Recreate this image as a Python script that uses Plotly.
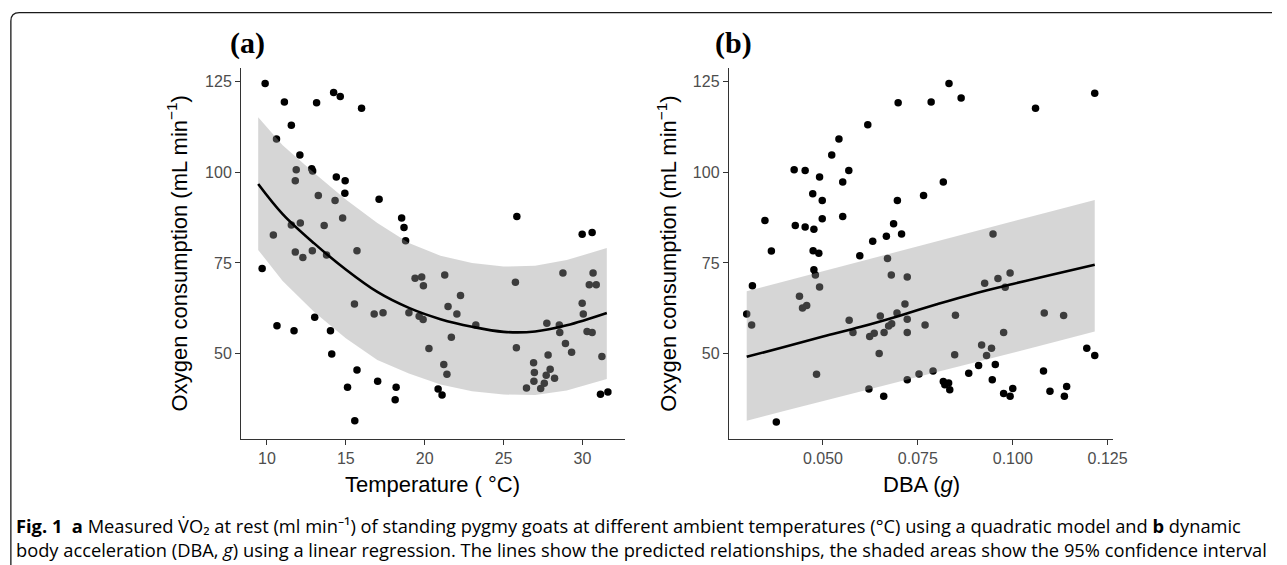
import plotly.graph_objects as go

W, H = 1287, 565

# ---------------- Panel (a): temperature ----------------
temp_c = [9.70, 9.89, 10.41, 10.61, 10.64, 11.11, 11.55, 11.55, 11.72, 11.80,
          11.80, 11.86, 12.09, 12.12, 12.28, 12.84, 12.90, 12.88, 13.03, 13.15,
          13.26, 13.63, 13.78, 14.03, 14.11, 14.23, 14.32, 14.40, 14.65, 14.80,
          14.94, 14.96, 15.11, 15.55, 15.57, 15.71, 15.71, 16.00, 16.80, 17.02,
          17.11, 17.36, 18.13, 18.19, 18.54, 18.69, 18.79, 19.00, 19.39, 19.81,
          19.92, 19.65, 19.90, 20.27, 20.85, 21.10, 21.21, 21.27, 21.41, 21.48,
          21.69, 22.04, 22.27, 23.24, 25.75, 25.81, 25.84, 26.45, 26.90, 26.95,
          26.92, 27.35, 27.58, 27.70, 27.95, 27.82, 27.74, 28.23, 28.53, 28.56,
          28.76, 28.92, 29.31, 29.98, 29.98, 30.05, 30.29, 30.61, 30.43, 30.61,
          30.67, 30.87, 31.14, 31.23, 31.61]
vo2_a = [73.5, 124.5, 82.7, 109.2, 57.7, 119.4, 113.0, 85.5, 56.3, 97.7,
         78.0, 100.7, 104.8, 86.0, 76.5, 101.0, 100.4, 78.4, 60.0, 119.2,
         93.6, 85.3, 77.2, 56.3, 49.9, 122.0, 92.2, 98.7, 120.9, 87.4,
         94.2, 97.7, 40.7, 63.7, 31.5, 78.4, 45.5, 117.7, 60.9, 42.4,
         92.6, 61.3, 37.3, 40.7, 87.4, 84.8, 81.1, 61.3, 70.8, 71.1,
         68.7, 60.3, 59.4, 51.4, 40.2, 38.6, 47.0, 71.7, 44.3, 63.0,
         54.5, 60.9, 66.0, 57.9, 69.7, 51.6, 87.8, 40.5, 47.5, 44.8,
         42.4, 40.4, 41.8, 44.0, 45.7, 49.6, 58.4, 43.2, 57.9, 55.8,
         72.2, 52.8, 50.4, 82.9, 63.9, 60.9, 56.1, 55.8, 69.0, 83.4,
         72.2, 69.0, 38.8, 49.2, 39.4]

fit_a_x = [9.45, 11, 13, 15, 17, 19, 21, 23, 25, 27, 29, 31.54]
fit_a_y = [96.8, 88.5, 80.4, 73.2, 67.0, 62.6, 59.5, 57.4, 56.0, 56.1, 57.8, 61.2]
ci_a_hi = [115.2, 107.5, 99.8, 92.5, 86.0, 80.5, 77.0, 75.0, 74.0, 74.2, 75.8, 79.1]
ci_a_lo = [78.6, 70.0, 61.5, 54.2, 48.2, 44.5, 41.5, 39.6, 38.7, 38.6, 39.8, 43.0]

# ---------------- Panel (b): DBA ----------------
dba_g = [0.0299, 0.0314, 0.0312, 0.0347, 0.0364, 0.0377, 0.0424, 0.0453, 0.0427, 0.0453,
         0.0476, 0.0438, 0.0446, 0.0457, 0.0473, 0.0491, 0.0498, 0.0498, 0.0474, 0.0489,
         0.0476, 0.0480, 0.0491, 0.0483, 0.0523, 0.0542, 0.0552, 0.0568, 0.0552, 0.0597,
         0.0618, 0.0631, 0.0667, 0.0686, 0.0707, 0.0696, 0.0698, 0.0569, 0.0579, 0.0623,
         0.0635, 0.0651, 0.0661, 0.0648, 0.0670, 0.0680, 0.0681, 0.0673, 0.0695, 0.0716,
         0.0722, 0.0722, 0.0722, 0.0722, 0.0621, 0.0660, 0.0753, 0.0832, 0.0785, 0.0864,
         0.1060, 0.1216, 0.0817, 0.0765, 0.0948, 0.0926, 0.0961, 0.0993, 0.0980, 0.0849,
         0.0769, 0.0976, 0.1083, 0.1134, 0.0847, 0.0918, 0.0944, 0.0931, 0.0954, 0.0910,
         0.0884, 0.0790, 0.0821, 0.0817, 0.0834, 0.0831, 0.0946, 0.0976, 0.0993, 0.1000,
         0.1081, 0.1098, 0.1142, 0.1136, 0.1195, 0.1216]
vo2_b = [60.9, 68.7, 57.9, 86.7, 78.3, 31.1, 100.7, 100.5, 85.3, 84.9,
         84.3, 65.8, 62.6, 63.3, 94.1, 98.7, 92.2, 87.2, 78.4, 77.7,
         73.1, 71.7, 68.4, 44.3, 104.8, 109.2, 97.3, 100.5, 87.8, 77.0,
         113.1, 81.0, 82.4, 85.8, 83.0, 92.2, 119.2, 59.2, 55.8, 54.7,
         55.6, 60.4, 55.8, 50.0, 76.2, 71.7, 58.2, 57.6, 61.2, 63.7,
         71.1, 59.5, 55.8, 42.8, 40.2, 38.2, 44.4, 124.5, 119.4, 120.5,
         117.7, 121.8, 97.3, 93.6, 83.0, 69.4, 70.7, 72.2, 68.3, 60.6,
         57.9, 55.8, 61.2, 60.5, 49.7, 52.4, 51.5, 49.5, 47.0, 46.7,
         44.6, 45.2, 41.4, 42.3, 40.0, 41.9, 42.8, 39.0, 38.2, 40.4,
         45.2, 39.6, 40.9, 38.2, 51.5, 49.5]

fit_b_x = [0.0299, 0.040, 0.050, 0.060, 0.070, 0.080, 0.090, 0.100, 0.110, 0.1216]
fit_b_y = [49.1, 51.9, 54.7, 57.4, 60.4, 63.6, 66.6, 69.2, 71.7, 74.5]
ci_b_hi = [67.2, 70.0, 72.7, 75.5, 78.2, 81.0, 83.7, 86.5, 89.2, 92.4]
ci_b_lo = [31.5, 34.2, 36.9, 39.6, 42.2, 44.9, 47.6, 50.3, 52.9, 56.1]

# ---------------- styling ----------------
AX_FONT = "Liberation Sans, Arial, sans-serif"
TICK_COL = "#4d4d4d"
LINE_COL = "#333333"
RIBBON = "rgba(153,153,153,0.4)"


def px_x(p):
    return p / W


def px_y(p):
    return 1 - p / H


fig = go.Figure()

panels = [
    (temp_c, vo2_a, fit_a_x, fit_a_y, ci_a_hi, ci_a_lo, "x", "y"),
    (dba_g, vo2_b, fit_b_x, fit_b_y, ci_b_hi, ci_b_lo, "x2", "y2"),
]
for xs, ys, fx, fy, hi, lo, xa, ya in panels:
    fig.add_trace(go.Scatter(x=xs, y=ys, mode="markers", xaxis=xa, yaxis=ya,
                             marker=dict(color="black", size=7.5, line=dict(width=0)),
                             showlegend=False, hoverinfo="skip"))
    fig.add_trace(go.Scatter(x=list(fx) + list(fx)[::-1], y=list(hi) + list(lo)[::-1],
                             mode="lines", fill="toself", fillcolor=RIBBON,
                             line=dict(width=0, color="rgba(0,0,0,0)"),
                             xaxis=xa, yaxis=ya, showlegend=False, hoverinfo="skip"))
    fig.add_trace(go.Scatter(x=fx, y=fy, mode="lines", line=dict(color="black", width=2.6, shape="spline"),
                             xaxis=xa, yaxis=ya, showlegend=False, hoverinfo="skip"))

common_axis = dict(showline=True, linecolor=LINE_COL, linewidth=1.3, showgrid=False, zeroline=False,
                   ticks="outside", ticklen=5, tickwidth=1.2, tickcolor=LINE_COL,
                   tickfont=dict(family=AX_FONT, size=16, color=TICK_COL), mirror=False)

y_dom = [px_y(439), px_y(68)]
fig.update_layout(
    width=W, height=H,
    margin=dict(l=0, r=0, t=0, b=0),
    paper_bgcolor="white", plot_bgcolor="white",
    xaxis=dict(domain=[px_x(244), px_x(632)], range=[8.37, 32.67],
               tickvals=[10, 15, 20, 25, 30], anchor="y", **common_axis),
    yaxis=dict(domain=y_dom, range=[26.44, 128.78], tickvals=[50, 75, 100, 125],
               anchor="x", **common_axis),
    xaxis2=dict(domain=[px_x(737.5), px_x(1126)], range=[0.02521, 0.12638],
                tickvals=[0.05, 0.075, 0.1, 0.125], ticktext=["0.050", "0.075", "0.100", "0.125"],
                anchor="y2", **common_axis),
    yaxis2=dict(domain=y_dom, range=[26.44, 128.78], tickvals=[50, 75, 100, 125],
                anchor="x2", **common_axis),
)

ann = []
title_font = dict(family="Liberation Serif, Times New Roman, serif", size=30, color="black")
ann.append(dict(text="<b>(a)</b>", x=px_x(250), y=px_y(43), font=title_font))
ann.append(dict(text="<b>(b)</b>", x=px_x(742), y=px_y(43), font=title_font))
axt_font = dict(family=AX_FONT, size=22, color="black")
ytitle = "Oxygen consumption (mL min<sup>−1</sup>)"
ann.append(dict(text=ytitle, textangle=-90, x=px_x(179), y=px_y(253.5), font=axt_font))
ann.append(dict(text=ytitle, textangle=-90, x=px_x(674), y=px_y(253.5), font=axt_font))
ann.append(dict(text="Temperature ( °C)", x=px_x(438), y=px_y(484), font=axt_font))
ann.append(dict(text="DBA (<i>g</i>)", x=px_x(932), y=px_y(484), font=axt_font))

cap_font = dict(family="Open Sans, Noto Sans, sans-serif", size=18.3, color="black")
caption = ("<b>Fig. 1</b>  <b>a</b> Measured V̇O₂ at rest (ml min⁻¹) of standing pygmy goats "
           "at different ambient temperatures (°C) using a quadratic model and <b>b</b> dynamic<br>"
           "body acceleration (DBA, <i>g</i>) using a linear regression. The lines show the predicted "
           "relationships, the shaded areas show the 95% confidence interval")
ann.append(dict(text=caption, x=px_x(14), y=px_y(537), xanchor="left", yanchor="middle",
                align="left", font=cap_font))

for a in ann:
    a.setdefault("xanchor", "center")
    a.setdefault("yanchor", "middle")
    a.update(xref="paper", yref="paper", showarrow=False)
fig.update_layout(annotations=ann)

# figure frame (rounded top-left corner)
frame = (f"M {px_x(11)},{px_y(565)} L {px_x(11)},{px_y(21)} "
         f"Q {px_x(11)},{px_y(12.7)} {px_x(19.5)},{px_y(12.7)} L {px_x(1287)},{px_y(12.7)}")
fig.add_shape(type="path", path=frame, xref="paper", yref="paper",
              line=dict(color="#1a1a1a", width=1.3))

fig.write_html("out.html")
